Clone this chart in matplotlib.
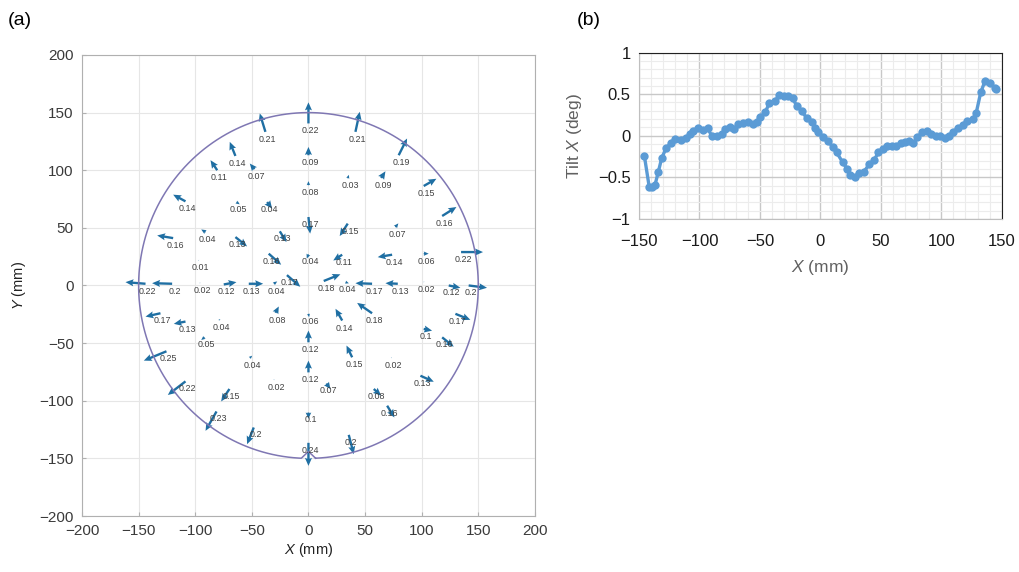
import numpy as np
import matplotlib.pyplot as plt

# (a) tilt vectors: measurement point (mm), arrow components (mm), tilt label
PT_X = [-38.0, -64.5, -80.6, -47.7, -108.6, -63.6, -36.5, -90.9, -119.5, -64.5,
        -25.3, -97.1, -35.1, -19.0, 0.0, 0.0, 0.0, 0.0, 0.0, 41.5,
        34.7, 64.2, 79.7, 101.8, 34.7, 76.8, 118.1, 29.8, 73.9, 101.8,
        134.8, -143.9, -120.4, -96.0, -74.8, -52.7, -30.6, 13.5, 32.7, 56.2,
        78.9, 101.8, 123.9, 141.5, -130.7, -108.6, -79.2, -91.8, -29.1, 0.0,
        29.8, 56.2, -125.4, -51.8, 0.0, 38.6, 73.0, 101.8, 118.1, 129.8,
        -30.6, 0.0, 15.9, -108.6, -69.8, 57.7, 98.9, 0.0, 69.5, -81.2,
        -48.3, 35.6, 0.0]
PT_Y = [133.3, 112.4, 100.0, 100.9, 73.0, 72.4, 72.4, 46.3, 41.1, 42.0,
        47.0, 21.7, 27.6, 9.0, 140.6, 113.0, 87.0, 59.4, 27.0, 133.3,
        93.0, 93.3, 113.0, 86.3, 53.7, 50.7, 60.3, 26.7, 26.7, 27.6,
        29.0, 1.5, 1.5, 2.0, 0.9, 1.5, 1.5, 3.9, 2.9, 1.5,
        1.5, 2.9, 0.0, 0.0, -24.1, -31.3, -29.8, -45.0, -23.7, -24.6,
        -30.4, -24.1, -57.1, -62.9, -49.3, -62.3, -62.9, -37.7, -45.0, -24.6,
        -82.0, -75.4, -85.0, -83.2, -89.8, -89.8, -78.3, -110.2, -104.3, -109.3,
        -123.2, -129.6, -136.5]
VEC_U = [-5.0, -5.0, -5.9, -4.1, -10.9, 2.9, 4.4, -3.8, -14.1, 10.3,
         5.9, 0.5, 11.0, 11.8, 0.0, 0.0, 0.0, 1.5, -1.5, 3.8,
         1.0, 3.8, 7.4, 11.2, -7.1, 2.6, 12.6, -7.9, -12.7, 4.4,
         19.4, -17.7, -17.7, 0.5, 11.2, 12.7, 3.0, 14.7, 3.0, -14.7,
         -10.9, 0.5, 10.3, 16.2, -13.2, -10.3, 1.5, -2.9, 2.9, 0.6,
         -5.9, -13.2, -20.0, 2.1, 0.0, -5.0, 0.5, 7.4, 10.2, 13.2,
         0.5, 0.0, 3.5, -15.6, -7.3, 6.5, 11.8, 0.0, 6.4, -9.7,
         -5.9, 4.4, 0.0]
VEC_V = [16.0, 12.2, 8.7, 4.9, 5.8, -2.0, -5.8, 2.3, 2.3, -8.1,
         -9.3, 0.5, -9.6, -10.1, 18.3, 7.2, 3.5, -14.4, -3.7, 17.4,
         3.0, 5.8, 14.5, 6.3, -10.8, 3.2, 7.8, -5.0, -2.1, 0.0,
         0.0, 1.4, 0.5, 0.5, 2.0, 0.0, 2.0, 5.8, -1.0, 0.5,
         0.5, 0.5, -2.0, -2.0, -2.9, -2.0, 0.0, -2.3, 5.5, -2.9,
         10.2, 9.0, -8.1, 2.0, 10.2, 10.2, 0.5, -1.5, -8.1, -5.2,
         0.5, 10.2, -4.9, -11.8, -10.8, -5.8, -5.2, -5.5, -10.2, -16.8,
         -14.5, -16.8, -20.0]
TILT = ["0.21", "0.14", "0.11", "0.07", "0.14", "0.05", "0.04", "0.04", "0.16", "0.13",
        "0.13", "0.01", "0.16", "0.17", "0.22", "0.09", "0.08", "0.17", "0.04", "0.21",
        "0.03", "0.09", "0.19", "0.15", "0.15", "0.07", "0.16", "0.11", "0.14", "0.06",
        "0.22", "0.22", "0.2", "0.02", "0.12", "0.13", "0.04", "0.18", "0.04", "0.17",
        "0.13", "0.02", "0.12", "0.2", "0.17", "0.13", "0.04", "0.05", "0.08", "0.06",
        "0.14", "0.18", "0.25", "0.04", "0.12", "0.15", "0.02", "0.1", "0.16", "0.17",
        "0.02", "0.12", "0.07", "0.22", "0.15", "0.08", "0.13", "0.1", "0.16", "0.23",
        "0.2", "0.2", "0.24"]

# (b) tilt profile along X
PROF_X = [-145.6, -141.5, -139.5, -136.8, -134.0, -131.3, -127.7, -123.8, -120.2, -115.5,
          -111.1, -107.8, -105.1, -100.9, -97.3, -93.2, -89.9, -85.8, -81.6, -78.9,
          -74.7, -71.4, -67.8, -64.2, -59.6, -55.4, -52.7, -49.9, -45.8, -42.2,
          -37.5, -33.9, -30.1, -26.5, -22.9, -19.6, -15.4, -11.3, -7.2, -4.4,
          -1.7, 2.5, 6.6, 10.2, 13.5, 18.5, 22.3, 24.5, 28.7, 32.3,
          36.1, 40.5, 44.4, 48.0, 51.6, 55.4, 59.0, 62.6, 66.5, 70.0,
          73.6, 76.9, 80.2, 83.8, 88.0, 91.5, 95.7, 99.0, 103.1, 106.7,
          110.0, 113.6, 117.7, 121.6, 126.0, 128.8, 132.6, 136.2, 140.4, 144.5,
          145.4]
PROF_TILT = [-0.24, -0.62, -0.61, -0.59, -0.43, -0.27, -0.15, -0.09, -0.04, -0.05,
             -0.03, 0.02, 0.06, 0.09, 0.07, 0.09, 0.00, 0.00, 0.02, 0.08,
             0.11, 0.08, 0.14, 0.15, 0.17, 0.14, 0.16, 0.22, 0.28, 0.39,
             0.42, 0.49, 0.48, 0.48, 0.45, 0.36, 0.30, 0.21, 0.17, 0.09,
             0.05, -0.02, -0.06, -0.14, -0.20, -0.32, -0.40, -0.47, -0.49, -0.45,
             -0.43, -0.34, -0.29, -0.20, -0.16, -0.12, -0.12, -0.12, -0.09, -0.07,
             -0.06, -0.09, -0.02, 0.04, 0.06, 0.02, 0.00, 0.00, -0.03, 0.00,
             0.05, 0.09, 0.13, 0.18, 0.20, 0.27, 0.52, 0.66, 0.63, 0.57,
             0.56]

plt.rcParams.update({
    "font.family": ["Liberation Sans", "DejaVu Sans"],
    "mathtext.fontset": "custom",
    "mathtext.it": "Liberation Sans:italic",
    "mathtext.rm": "Liberation Sans",
})

fig = plt.figure(figsize=(10.2, 5.72), dpi=100)

# ---- panel (a) ----
ax = fig.add_axes([0.0804, 0.0979, 0.444, 0.806])
ax.set_xlim(-200, 200)
ax.set_ylim(-200, 200)
ax.set_xticks(range(-200, 201, 50))
ax.set_yticks(range(-200, 201, 50))
ax.grid(color="#e6e6e6", linewidth=0.8)
ax.set_axisbelow(True)
for side in ax.spines.values():
    side.set_color("#b0b0b0")
    side.set_linewidth(0.8)
ax.tick_params(colors="#b0b0b0", labelcolor="#3a3a3a", labelsize=11,
               direction="in", length=3, pad=6)

# wafer outline with notch at the bottom
theta = np.linspace(np.deg2rad(-87.6), np.deg2rad(267.6), 400)
cx = np.concatenate([150 * np.cos(theta), [0.0, 150 * np.cos(theta[0])]])
cy = np.concatenate([150 * np.sin(theta), [-144.0, 150 * np.sin(theta[0])]])
ax.plot(cx, cy, color="#7f77b3", linewidth=1.1)

ax.quiver(PT_X, PT_Y, VEC_U, VEC_V, angles="xy", scale_units="xy", scale=1,
          color="#1f6fa3", width=0.0052, headwidth=3.0, headlength=3.4,
          headaxislength=3.0, minlength=0.3)
for x, y, t in zip(PT_X, PT_Y, TILT):
    ax.text(x + 2, y - 6.5, t, fontsize=6.4, color="#404040",
            ha="center", va="center")

ax.set_xlabel(r"$\mathit{X}$ (mm)", fontsize=10.5, color="#222222", labelpad=2)
ax.set_ylabel(r"$\mathit{Y}$ (mm)", fontsize=10.5, color="#222222", labelpad=8)

# ---- panel (b) ----
bx = fig.add_axes([0.6265, 0.6169, 0.3556, 0.2913])
bx.set_xlim(-150, 150)
bx.set_ylim(-1, 1)
bx.set_xticks(range(-150, 151, 50))
bx.set_yticks([-1, -0.5, 0, 0.5, 1])
bx.set_yticklabels(["\u22121", "\u22120.5", "0", "0.5", "1"])
bx.set_xticklabels(["\u2212150", "\u2212100", "\u221250", "0", "50", "100", "150"])
bx.set_xticks(range(-150, 151, 10), minor=True)
bx.set_yticks(np.arange(-1, 1.01, 0.1), minor=True)
bx.grid(which="major", color="#c8c8c8", linewidth=1.0)
bx.grid(which="minor", color="#ececec", linewidth=0.8)
bx.set_axisbelow(True)
bx.tick_params(which="both", length=0, labelsize=12, colors="#1a1a1a")
bx.tick_params(axis="x", pad=11)
bx.tick_params(axis="y", pad=6)
bx.spines["top"].set_color("#222222")
bx.spines["right"].set_color("#222222")
bx.spines["left"].set_color("#bfbfbf")
bx.spines["bottom"].set_color("#bfbfbf")
bx.plot(PROF_X, PROF_TILT, color="#5b9bd5", linewidth=2.4, marker="o",
        markersize=6, markeredgewidth=0)
bx.set_xlabel(r"$\mathit{X}$ (mm)", fontsize=12.5, color="#606060", labelpad=6)
bx.set_ylabel(r"Tilt $\mathit{X}$ (deg)", fontsize=12.5, color="#606060", labelpad=10)

fig.text(0.008, 0.965, "(a)", fontsize=14, va="center")
fig.text(0.565, 0.965, "(b)", fontsize=14, va="center")

fig.savefig("out.png", dpi=100)
